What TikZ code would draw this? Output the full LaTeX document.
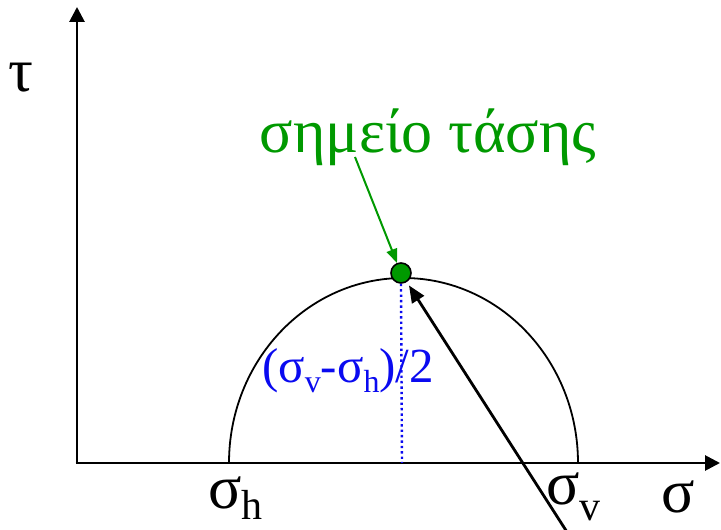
\documentclass[tikz,border=0pt]{standalone}
\usepackage{fontspec}
\setmainfont{Liberation Serif}
\usepackage{xcolor}
\usetikzlibrary{arrows.meta,positioning}
\definecolor{greenx}{HTML}{009900}
\definecolor{bluex}{HTML}{0A0AF0}
\newcommand{\lowsub}[3]{\raisebox{-#1}{\fontsize{#2}{#2}\selectfont #3}}
\tikzset{
  ax/.style={-{Triangle[length=15pt,width=15pt]},line width=2.8pt,black},
  circ/.style={line width=1.8pt,black},
  gar/.style={-{Triangle[length=14pt,width=11pt]},line width=2pt,greenx},
  kar/.style={-{Triangle[length=17pt,width=14pt]},line width=2.8pt,black,shorten >=4pt},
  dotl/.style={bluex,line width=2.4pt,dash pattern=on 2.4pt off 3pt},
  big/.style={font=\fontsize{62pt}{62pt}\selectfont,inner sep=0pt},
  mid/.style={font=\fontsize{49pt}{49pt}\selectfont,inner sep=0pt}
}

\begin{document}
\begin{tikzpicture}[x=1pt,y=1pt]
\useasboundingbox (0,0) rectangle (721,530);
% axes
\coordinate (o) at (77,67);
\coordinate (ytop) at (77,523);
\coordinate (xend) at (720,67);
\draw[ax] (o) -- (ytop);
\draw[ax] ([xshift=-1.4pt]o) -- (xend);
% half circle
\draw[circ] (229,67) arc[start angle=180,end angle=0,x radius=174.5,y radius=185];
% point
\node[circle,draw=black,line width=1.6pt,fill=greenx,minimum size=20pt,inner sep=0pt] (pt) at (401,257) {};
\coordinate (foot) at (402,67);
\draw[dotl] (pt.south) -- (foot);
% labels
\node[big,anchor=base] (tau) at (21,438) {τ};
\node[big,anchor=base] (sig) at (678,17) {σ};
\node[big,anchor=base west] (sh) at (208,21) {σ\lowsub{11pt}{42pt}{h}};
\node[big,anchor=base west] (sv) at (546,25) {σ\lowsub{16pt}{42pt}{v}};
\node[mid,anchor=base west,text=bluex] (half) at (262,147) {(σ\lowsub{10pt}{32pt}{v}-σ\lowsub{10pt}{32pt}{h})/2};
\node[big,anchor=base,text=greenx] (lbl) at (428,377) {σημείο τάσης};
% arrows
\draw[gar] ([xshift=-73pt,yshift=-4pt]lbl.base) -- (pt);
\coordinate (src) at (567,-2);
\draw[kar] (src) -- (pt);
\end{tikzpicture}
\end{document}
